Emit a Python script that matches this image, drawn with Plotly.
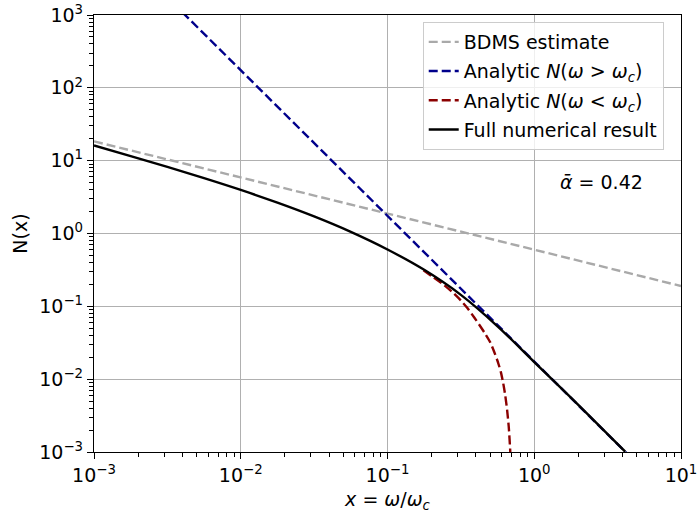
import plotly.graph_objects as go

# ---- data (log-log) ----
bdms_x = [1e-3, 1e-2, 1e-1, 1.0, 10.0]
bdms_y = [18.4, 5.9, 1.9, 0.6, 0.19]

high_x = [0.004, 0.01, 0.1, 1.0, 5.0]
high_y = [1090, 174, 1.74, 0.0174, 0.0007]

low_x = [0.1758, 0.2046, 0.2399, 0.2799, 0.3162, 0.3491, 0.3890, 0.4276, 0.4624, 0.5000,
         0.5346, 0.5675, 0.5916, 0.6138, 0.6339, 0.6531, 0.6699, 0.6855, 0.6950]
low_y = [0.312, 0.2512, 0.1995, 0.1535, 0.1202, 0.0953, 0.0708, 0.0537, 0.0422, 0.0324,
         0.0234, 0.0168, 0.0126, 0.00891, 0.00603, 0.00380, 0.00224, 0.00107, 0.00050]

full_x = [0.001, 0.001778, 0.003162, 0.005623, 0.01, 0.01778, 0.03162, 0.05623, 0.1, 0.1778,
          0.3162, 0.5623, 1.0, 1.778, 3.162, 4.169]
full_y = [16.18, 11.56, 8.20, 5.75, 3.96, 2.65, 1.714, 1.052, 0.603, 0.317, 0.1436, 0.0532,
          0.01718, 0.00556, 0.00176, 0.00101]

xtick_vals = [1e-3, 1e-2, 1e-1, 1e0, 1e1]
xtick_text = ["10<sup>−3</sup>", "10<sup>−2</sup>", "10<sup>−1</sup>", "10<sup>0</sup>", "10<sup>1</sup>"]
ytick_vals = [1e-3, 1e-2, 1e-1, 1e0, 1e1, 1e2, 1e3]
ytick_text = ["10<sup>−3</sup>", "10<sup>−2</sup>", "10<sup>−1</sup>", "10<sup>0</sup>",
              "10<sup>1</sup>", "10<sup>2</sup>", "10<sup>3</sup>"]

FONT = "DejaVu Sans"
FS = 19

def minor_vals(lo, hi):
    vals = []
    for e in range(lo, hi):
        for m in range(2, 10):
            vals.append(m * 10.0 ** e)
    return vals

fig = go.Figure()
dash = "9px,4px"
LW = 2.4
fig.add_trace(go.Scatter(x=bdms_x, y=bdms_y, mode="lines", name="BDMS estimate",
                         legendgroup="a", line=dict(color="#a9a9a9", width=LW, dash=dash)))
fig.add_trace(go.Scatter(x=high_x, y=high_y, mode="lines",
                         name="Analytic <i>N</i>(<i>ω</i> > <i>ω<sub>c</sub></i>)",
                         legendgroup="b", line=dict(color="#00008b", width=LW, dash=dash)))
fig.add_trace(go.Scatter(x=low_x, y=low_y, mode="lines",
                         name="Analytic <i>N</i>(<i>ω</i> < <i>ω<sub>c</sub></i>)",
                         legendgroup="c", line=dict(color="#8b0000", width=LW, dash=dash,
                                                    shape="spline", smoothing=0.6)))
fig.add_trace(go.Scatter(x=full_x, y=full_y, mode="lines", name="Full numerical result",
                         legendgroup="d", line=dict(color="black", width=LW, shape="spline",
                                                    smoothing=1.0)))

axis_common = dict(
    type="log", showline=True, linecolor="black", linewidth=1.3, mirror=True,
    ticks="outside", ticklen=6, tickwidth=1.3, tickcolor="black",
    showgrid=True, gridcolor="#b0b0b0", gridwidth=1.3, zeroline=False,
    ticklabeloverflow="allow", automargin=False,
    tickfont=dict(family=FONT, size=FS, color="black"),
)

fig.update_xaxes(range=[-3, 1], tickvals=xtick_vals, ticktext=xtick_text,
                 minor=dict(tickvals=minor_vals(-3, 1), ticks="outside", ticklen=3.5,
                            tickwidth=1, tickcolor="black", showgrid=False),
                 title=dict(text="<i>x</i> = <i>ω</i>/<i>ω<sub>c</sub></i>",
                            font=dict(family=FONT, size=FS, color="black"), standoff=8),
                 **axis_common)
fig.update_yaxes(range=[-3, 3], tickvals=ytick_vals, ticktext=ytick_text,
                 minor=dict(tickvals=minor_vals(-3, 3), ticks="outside", ticklen=3.5,
                            tickwidth=1, tickcolor="black", showgrid=False),
                 title=dict(text="N(x)", font=dict(family=FONT, size=FS, color="black"), standoff=6),
                 **axis_common)

fig.add_annotation(x=0.865, y=0.618, xref="paper", yref="paper", xanchor="center",
                   yanchor="middle", text="<i>ᾱ</i> = 0.42", showarrow=False,
                   font=dict(family=FONT, size=FS, color="black"))

fig.update_layout(
    width=697, height=513,
    margin=dict(l=94, r=16, t=15, b=61),
    plot_bgcolor="white", paper_bgcolor="white",
    font=dict(family=FONT, size=FS, color="black"),
    legend=dict(x=0.56, y=0.984, xanchor="left", yanchor="top",
                bgcolor="rgba(255,255,255,0.8)", bordercolor="#cccccc", borderwidth=1,
                font=dict(family=FONT, size=FS, color="black"), tracegroupgap=1.5),
    showlegend=True,
)

fig.write_html("out.html")
